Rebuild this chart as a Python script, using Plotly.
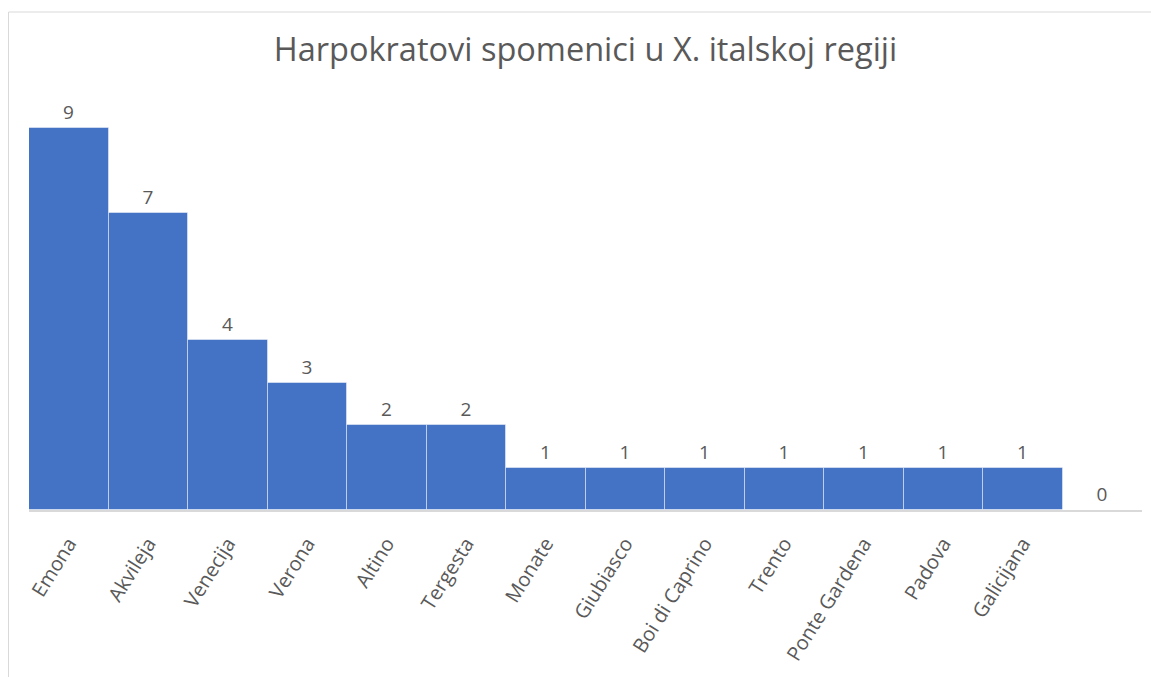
import plotly.graph_objects as go

categories = ["Emona", "Akvileja", "Venecija", "Verona", "Altino", "Tergesta", "Monate",
              "Giubiasco", "Boi di Caprino", "Trento", "Ponte Gardena", "Padova", "Galicijana", " "]
values = [9, 7, 4, 3, 2, 2, 1, 1, 1, 1, 1, 1, 1, 0]
title_text = "Harpokratovi spomenici u X. italskoj regiji"

W, H = 1151, 677
ml, mt = 29, 86
mr = W - 1142
mb = H - 510
FONT = "Open Sans, Noto Sans, sans-serif"
GRAY = "#595959"

fig = go.Figure(go.Bar(
    x=categories, y=values,
    marker=dict(color="#4472C4", line=dict(color="rgba(255,255,255,0.45)", width=1)),
    text=[str(v) for v in values], textposition="outside", cliponaxis=False,
    textfont=dict(family=FONT, size=19, color=GRAY),
))

pw = W - ml - mr
ph = H - mt - mb
fx = (8 - ml) / pw + 0.5 / pw
fy_top = 1 + (mt - 12) / ph
fy_bot = (H - mb - 800) / ph
xr = (1300 - ml) / pw
fig.add_shape(type="line", xref="paper", yref="paper", x0=fx, x1=xr, y0=fy_top, y1=fy_top,
              line=dict(color="#D9D9D9", width=1))
fig.add_shape(type="line", xref="paper", yref="paper", x0=fx, x1=fx, y0=fy_top, y1=fy_bot,
              line=dict(color="#D9D9D9", width=1))

fig.update_layout(
    width=W, height=H,
    margin=dict(l=ml, r=mr, t=mt, b=mb, autoexpand=False),
    paper_bgcolor="white", plot_bgcolor="white",
    bargap=0,
    showlegend=False,
    title=dict(text=title_text, x=585.5 / W, xanchor="center", y=1 - 50 / H, yanchor="middle",
               font=dict(family=FONT, size=32.5, color=GRAY)),
    xaxis=dict(type="category", tickangle=-58, showline=True, linecolor="#D9D9D9", linewidth=2,
               ticks="", ticklabelstandoff=12, automargin=False,
               tickfont=dict(family=FONT, size=20, color=GRAY), showgrid=False),
    yaxis=dict(range=[0, 10], visible=False, showgrid=False, automargin=False),
)

fig.write_html("out.html", config={"displayModeBar": False},
               post_script="document.body.style.margin='0';document.body.style.overflow='hidden';")
